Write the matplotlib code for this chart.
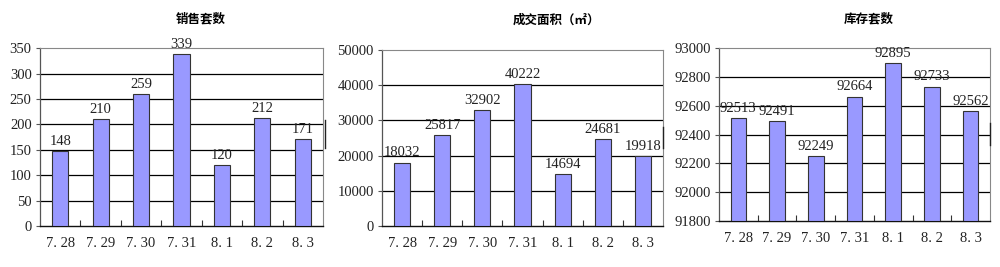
import matplotlib
matplotlib.use("Agg")
import matplotlib.pyplot as plt
from matplotlib.lines import Line2D
from matplotlib import font_manager

names = {f.name for f in font_manager.fontManager.ttflist}
num_font = "Liberation Sans Narrow" if "Liberation Sans Narrow" in names else "Liberation Serif"
plt.rcParams['font.family'] = [num_font, 'Noto Sans CJK SC', 'DejaVu Sans']

categories = ["7.28", "7.29", "7.30", "7.31", "8.1", "8.2", "8.3"]
x_labels = ["7. 28", "7. 29", "7. 30", "7. 31", "8. 1", "8. 2", "8. 3"]
sales = [148, 210, 259, 339, 120, 212, 171]
area = [18032, 25817, 32902, 40222, 14694, 24681, 19918]
stock = [92513, 92491, 92249, 92664, 92895, 92733, 92562]

titles = ["销售套数", "成交面积（㎡）", "库存套数"]
ylims = [(0, 350), (0, 50000), (91800, 93000)]
ysteps = [50, 10000, 200]
series = [sales, area, stock]

axes_pos = [
    [0.040, 0.1536, 0.283, 0.666],
    [0.382, 0.1536, 0.281, 0.659],
    [0.719, 0.172, 0.271, 0.648],
]
title_pos = [(0.201, 0.930), (0.556, 0.925), (0.869, 0.930)]
marks = [(0.325, 120, 148), (0.663, 127, 148), (0.990, 123, 145)]

fig = plt.figure(figsize=(10, 2.67), dpi=100)
fig.patch.set_facecolor("white")

bar_color = "#9999FF"
for k in range(3):
    ax = fig.add_axes(axes_pos[k])
    vals = series[k]
    lo, hi = ylims[k]
    xs = list(range(len(categories)))
    ax.bar(xs, [v - lo for v in vals], bottom=lo, width=0.4,
           color=bar_color, edgecolor="#333333", linewidth=0.8, zorder=3)
    ax.set_xlim(-0.5, len(categories) - 0.5)
    ax.set_ylim(lo, hi)
    yt = list(range(lo, hi + 1, ysteps[k]))
    ax.set_yticks(yt)
    ax.set_yticklabels([str(v) for v in yt], fontsize=10.5, color="#222222")
    for v in yt[1:-1]:
        ax.axhline(v, color="black", linewidth=0.9, zorder=1)
    ax.set_xticks(xs)
    ax.set_xticklabels(x_labels, fontsize=10.5, color="#222222")
    ax.tick_params(axis="x", length=0, pad=8)
    ax.tick_params(axis="y", length=3, width=0.8, color="#555555", pad=3, direction="out")
    ax.set_xticks([i + 0.5 for i in range(len(categories) - 1)], minor=True)
    ax.tick_params(axis="x", which="minor", length=4, width=0.8, direction="in", color="#333333")
    for s in ["top", "right"]:
        ax.spines[s].set_color("#888888")
        ax.spines[s].set_linewidth(0.8)
    ax.spines["left"].set_color("#555555")
    ax.spines["left"].set_linewidth(0.9)
    ax.spines["bottom"].set_color("#111111")
    ax.spines["bottom"].set_linewidth(1.0)
    span = hi - lo
    for i, v in enumerate(vals):
        ax.text(i, v + span * 0.018, str(v), ha="center", va="bottom",
                fontsize=10.5, color="#222222", zorder=4)
    fig.text(title_pos[k][0], title_pos[k][1], titles[k], ha="center", va="center",
             fontsize=9, fontweight="bold", family=["Noto Sans CJK SC", "DejaVu Sans"])
    mx, y0, y1 = marks[k]
    fig.add_artist(Line2D([mx, mx], [1 - y0 / 267, 1 - y1 / 267], color="#222222",
                          linewidth=1.0, transform=fig.transFigure))

fig.savefig("out.png", dpi=100, facecolor="white")
